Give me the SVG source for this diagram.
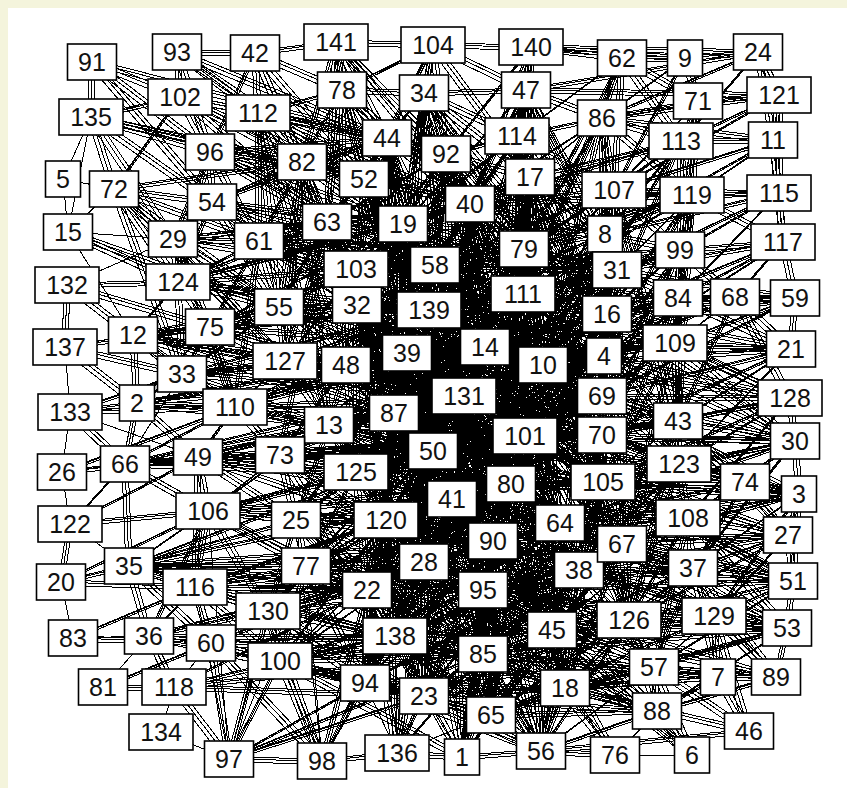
<svg xmlns="http://www.w3.org/2000/svg" xmlns:xlink="http://www.w3.org/1999/xlink" width="847" height="788" viewBox="0 0 847 788">
<style>
.e path{fill:none;stroke:#000;stroke-width:1;shape-rendering:crispEdges}
.n rect{fill:#fff;stroke:#000;stroke-width:1.6}
.n text{font-family:"Liberation Sans",Arial,sans-serif;font-size:25px;fill:#111;text-anchor:middle}
</style>
<rect x="0" y="0" width="847" height="788" fill="#f4f4dc"/>
<rect x="8" y="8" width="839" height="780" fill="#fff"/>
<g id="edges" class="e">
<g id="core">
<path d="M543,365 435,265 525,436 403,224 464,396 523,294 433,451 485,347 394,413 524,249 429,310 452,499 356,269 511,484 357,305 493,541 346,365 560,523 407,353 603,482 329,425 602,435 356,472 602,396 386,520 604,356 424,562 607,314 483,590 617,270 367,590 605,234 395,636 470,204 483,654 327,222 552,630 364,179 579,570 446,154 622,544 530,177 629,620 614,190 565,688 517,136 424,696 387,138 365,683 424,93 491,715 526,90"/>
<path d="M485,347 470,204 511,484 464,396 607,314 433,451 543,365 356,472 525,436 394,413 523,294 329,425 604,356 452,499 429,310 493,541 435,265 560,523 357,305 603,482 403,224 386,520 602,435 346,365 602,396 424,562 407,353 483,590 524,249 367,590 617,270 395,636 356,269 483,654 605,234 552,630 327,222 579,570 446,154 565,688 364,179 622,544 530,177 629,620 387,138 424,696 517,136 365,683 614,190 491,715"/>
<path d="M464,396 602,435 407,353 525,436 433,451 604,356 394,413 543,365 485,347 602,396 452,499 523,294 356,472 603,482 329,425 511,484 435,265 493,541 386,520 560,523 429,310 483,590 424,562 579,570 367,590 552,630 483,654 565,688 395,636 629,620 424,696 622,544 365,683 654,667 491,715 657,711 541,751 552,630 493,541 511,484 543,365 607,314 523,294 617,270 524,249 605,234 470,204 530,177 446,154 403,224 327,222 357,305 356,269 407,353 346,365 329,425 394,413"/>
<path d="M525,436 485,347 604,356 464,396 543,365 602,435 602,396 511,484 603,482 452,499 560,523 433,451 493,541 356,472 386,520 394,413 424,562 329,425 346,365 356,472 367,590 452,499 483,590 386,520 395,636 493,541 483,654 560,523 552,630 622,544 579,570 603,482 679,464 602,435 678,421 602,396 675,343 604,356 678,298 607,314 617,270 523,294 605,234 524,249 614,190 530,177 517,136 470,204 446,154 435,265 429,310 485,347 407,353 464,396"/>
<path d="M433,451 525,436 511,484 464,396 485,347 543,365 604,356 607,314 602,396 602,435 603,482 560,523 493,541 452,499 433,451 394,413 407,353 346,365 357,305 429,310 435,265 523,294 524,249 470,204 403,224 435,265 356,269 327,222 364,179 387,138 446,154 517,136 530,177 524,249 617,270 605,234 614,190 602,118 526,90 424,93 387,138 403,224 429,310 523,294 485,347 525,436 602,435 679,464 688,518 622,544 629,620 552,630 579,570 483,590 424,562 386,520 356,472 329,425 394,413 464,396 523,294"/>
<path d="M604,356 543,365 525,436 433,451 452,499 511,484 493,541 483,590 483,654 552,630 565,688 654,667 629,620 622,544 560,523 603,482 678,421 679,464 675,343 678,298 680,250 617,270 607,314 485,347 464,396 407,353 394,413 356,472 280,455 329,425 285,361 346,365 357,305 279,307 356,269 259,241 327,222 302,162 364,179 210,152 387,138 258,113 342,90 424,93 446,154 470,204 524,249 523,294 543,365"/>
<path d="M91,117 114,189 212,202 210,152 180,97 258,113 259,241 173,239 178,282 133,335 137,403 125,464 198,457 208,511 129,566 195,587 149,636 211,643 268,611 280,661 229,759 174,687 149,636 129,566 61,582 70,524 125,464 70,412 137,403 182,374 210,327 279,307 285,361 235,407 280,455 296,520 306,566 268,611 195,587 208,511 198,457 235,407 182,374 133,335 67,285 65,347 137,403"/>
<path d="M92,62 212,202 91,117 173,239 114,189 259,241 210,152 302,162 180,97 327,222 258,113 279,307 212,202 178,282 210,327 259,241 235,407 173,239 285,361 114,189 182,374 178,282 279,307 137,403 198,457 280,455 125,464 208,511 296,520 129,566 306,566 195,587 280,661 211,643 229,759 268,611 322,761 280,661 365,683 367,590 268,611 306,566 296,520 280,455 329,425 235,407 285,361 346,365 279,307 357,305 210,327 356,269"/>
<path d="M177,52 210,152 255,53 302,162 342,90 327,222 258,113 364,179 210,152 387,138 212,202 302,162 259,241 403,224 279,307 327,222 285,361 356,269 178,282 259,241 210,327 346,365 235,407 329,425 198,457 356,472 208,511 386,520 306,566 367,590 195,587 395,636 211,643 365,683 229,759 322,761 397,753 462,757 541,751"/>
<path d="M92,62 91,117 210,152 173,239 212,202 259,241 279,307 178,282 173,239 210,327 182,374 235,407 198,457 137,403 210,327 285,361 279,307 329,425 280,455 198,457 208,511 280,455 296,520 208,511 268,611 296,520 386,520 280,455 356,472 306,566 280,661 367,590 365,683 280,661 395,636 268,611 367,590 306,566 386,520 424,562 356,472 452,499 296,520 329,425 433,451 280,455 394,413 285,361 407,353 279,307 346,365 210,327 133,335 178,282 114,189 180,97 177,52 258,113 302,162 210,152 180,97 91,117 212,202"/>
<path d="M336,42 342,90 255,53 258,113 342,90 424,93 433,45 531,47 622,58 602,118 526,90 433,45 424,93 446,154 517,136 526,90 531,47 530,177 602,118 614,190 622,58 698,101 685,58 758,52 779,95 698,101 681,141 602,118 692,195 681,141 773,140 779,95 779,193 773,140 783,242 779,193 692,195 680,250 614,190 605,234 530,177 470,204 446,154 387,138 424,93 403,224 364,179 387,138 342,90 364,179 302,162"/>
<path d="M433,45 446,154 531,47 517,136 424,93 470,204 526,90 530,177 433,45 387,138 336,42 302,162 327,222 403,224 446,154 524,249 517,136 617,270 602,118 605,234 681,141 680,250 698,101 614,190 685,58 602,118 622,58 681,141 758,52 773,140 692,195 783,242 680,250 678,298 735,297 783,242 795,298 791,349 735,297 675,343 678,298 692,195"/>
<path d="M255,53 336,42 433,45 342,90 387,138 446,154 470,204 517,136 602,118 681,141 614,190 692,195 605,234 680,250 607,314 678,298 617,270 614,190 517,136 524,249 530,177 523,294 470,204 435,265 403,224 356,269 364,179 327,222 387,138 302,162 258,113 255,53 177,52 180,97 92,62"/>
<path d="M791,349 675,343 790,398 678,421 795,441 679,464 745,482 688,518 788,535 799,494 793,581 714,616 787,628 693,568 629,620 654,667 718,677 776,677 787,628 793,581 788,535 745,482 799,494 795,441 790,398 735,297 791,349 795,298 783,242 735,297 680,250 617,270 678,298 607,314 675,343 604,356 678,421 602,396 679,464 602,435 603,482 688,518 622,544 693,568 579,570 714,616 654,667 657,711 692,755 654,667 565,688 657,711 615,755 541,751"/>
<path d="M795,298 678,298 791,349 678,421 790,398 675,343 795,441 679,464 799,494 688,518 745,482 678,421 788,535 603,482 793,581 560,523 787,628 629,620 714,616 693,568 688,518 679,464 678,421 745,482 795,441 604,356 790,398 607,314 791,349 617,270 795,298 735,297 675,343 602,396 795,441 602,435 799,494 603,482 788,535 622,544 793,581 579,570 787,628 552,630 776,677 714,616 718,677 654,667 749,731 718,677 657,711 629,620"/>
<path d="M788,535 525,436 745,482 560,523 799,494 602,396 790,398 543,365 791,349 485,347 795,298 607,314 783,242 617,270 779,193 605,234 773,140 614,190 779,95 681,141 758,52 602,118 685,58 622,58 698,101 692,195 783,242 680,250 779,193 678,298 735,297 607,314 795,441 525,436 793,581 493,541 787,628 483,590 776,677 693,568 718,677 714,616 749,731 654,667 787,628 688,518 793,581 603,482 745,482 602,435 790,398 679,464 799,494 622,544 788,535 579,570"/>
<path d="M541,751 483,654 541,751 483,590 541,751 552,630 541,751 579,570 541,751 629,620 541,751 493,541 541,751 560,523 541,751 424,562 541,751 424,696 541,751 657,711 541,751 654,667 541,751 622,544 462,757 483,654 462,757 483,590 462,757 424,562 462,757 367,590 397,753 367,590 397,753 386,520 397,753 483,654 491,715 483,590 491,715 552,630 491,715 565,688 424,696 424,562 424,696 367,590 365,683 395,636 365,683 424,562 365,683 386,520 424,696 483,590"/>
<path d="M565,688 552,630 629,620 579,570 622,544 560,523 493,541 483,590 424,562 367,590 386,520 452,499 493,541 579,570 552,630 483,654 395,636 367,590 306,566 386,520 493,541 560,523 579,570 629,620 565,688 483,654 491,715 424,696 395,636 386,520 511,484 483,590 552,630 560,523 603,482 579,570 654,667 629,620 693,568 622,544 688,518 560,523 511,484 452,499 424,562"/>
<path d="M329,425 543,365 356,472 604,356 346,365 525,436 357,305 602,435 356,269 602,396 407,353 603,482 429,310 560,523 435,265 511,484 403,224 493,541 327,222 452,499 364,179 433,451 387,138 394,413 446,154 464,396 470,204 485,347 530,177 525,436 517,136 543,365 526,90 604,356 424,93 607,314 446,154 602,396 435,265 602,435 403,224 603,482 357,305 560,523 346,365 511,484 329,425 493,541 356,472 483,590 394,413 424,562 433,451 367,590 407,353 386,520 429,310 452,499 523,294 511,484 524,249 525,436 605,234 485,347 617,270 464,396 607,314 429,310 604,356 407,353 543,365 394,413 602,435"/>
<path d="M279,307 429,310 285,361 485,347 210,327 464,396 235,407 433,451 198,457 394,413 280,455 525,436 208,511 511,484 296,520 493,541 306,566 560,523 268,611 483,590 195,587 424,562 280,661 552,630 211,643 483,654 229,759 424,696 367,590 565,688 365,683 541,751 395,636 491,715 280,661 462,757"/>
<path d="M302,162 435,265 210,152 403,224 212,202 523,294 259,241 524,249 173,239 470,204 178,282 429,310 133,335 464,396 182,374 485,347 137,403 543,365 125,464 525,436 198,457 452,499 208,511 493,541 129,566 483,590 195,587 395,636 129,566 306,566 125,464 329,425 137,403 346,365 182,374 285,361 133,335 279,307 173,239 356,269 212,202 327,222 180,97 364,179 177,52 387,138 92,62 210,152"/>
<path d="M680,250 435,265 692,195 470,204 681,141 530,177 602,118 524,249 614,190 523,294 605,234 403,224 617,270 429,310 607,314 356,269 678,298 485,347 675,343 543,365 678,421 464,396 679,464 433,451 688,518 452,499 693,568 493,541 714,616 483,590 629,620 424,562 654,667 367,590 657,711 424,696 718,677 483,654 776,677 552,630 787,628 565,688 749,731 541,751"/>
<path d="M735,297 604,356 783,242 607,314 795,298 602,396 791,349 602,435 790,398 603,482 795,441 560,523 745,482 511,484 799,494 525,436 788,535 493,541 793,581 483,590 787,628 483,654 714,616 491,715 693,568 552,630 688,518 579,570 679,464 629,620 678,421 622,544 675,343 603,482 678,298 602,435 680,250 604,356 692,195 617,270 614,190 543,365 681,141 607,314 602,118 523,294 622,58 524,249 531,47 470,204 517,136 435,265 526,90 403,224 433,45 364,179 336,42 327,222 255,53 302,162"/>
<path d="M464,396 525,436 394,413 602,435 433,451 602,396 407,353 560,523 485,347 452,499 543,365 493,541 604,356 511,484 607,314 356,472 617,270 329,425 523,294 386,520 435,265 424,562 429,310 483,590 357,305 579,570 346,365 552,630 356,269 483,654 403,224 565,688 470,204 629,620 524,249 622,544 605,234 603,482 530,177 679,464 614,190 678,421 692,195 675,343 680,250 678,298 617,270 602,396 543,365 525,436 511,484 560,523 493,541 452,499 433,451 394,413 407,353 485,347 464,396 604,356"/>
<path d="M394,413 485,347 433,451 543,365 329,425 464,396 356,472 525,436 346,365 511,484 407,353 493,541 357,305 560,523 435,265 603,482 403,224 602,435 429,310 602,396 356,269 604,356 523,294 394,413 452,499 464,396 386,520 525,436 424,562 511,484 483,590 560,523 483,654 603,482 552,630 602,435 579,570 678,421 622,544 679,464 629,620 688,518 654,667 693,568 565,688 657,711 552,630 493,541 367,590 452,499 395,636 433,451 424,696 464,396 365,683 394,413 491,715 525,436 541,751 493,541 462,757 424,562 397,753 386,520"/>
<path d="M403,224 429,310 364,179 435,265 387,138 470,204 446,154 524,249 517,136 523,294 530,177 485,347 470,204 543,365 403,224 464,396 327,222 407,353 356,269 394,413 357,305 433,451 346,365 452,499 329,425 386,520 356,472 424,562 280,455 367,590 296,520 395,636 306,566 365,683 268,611 424,696 280,661 483,654"/>
<path d="M464,396 403,224 464,396 435,265 464,396 357,305 464,396 346,365 464,396 329,425 464,396 356,472 464,396 386,520 464,396 424,562 464,396 493,541 464,396 560,523 464,396 603,482 464,396 602,435 464,396 602,396 464,396 607,314 464,396 523,294 464,396 524,249 464,396 470,204"/>
<path d="M525,436 407,353 525,436 346,365 525,436 329,425 525,436 356,472 525,436 386,520 525,436 424,562 525,436 483,590 525,436 483,654 525,436 552,630 525,436 579,570 525,436 622,544 525,436 603,482 525,436 678,421 525,436 675,343 525,436 607,314 525,436 617,270 525,436 605,234 525,436 524,249 525,436 523,294 525,436 435,265 525,436 429,310"/>
<path d="M433,451 429,310 433,451 435,265 433,451 356,269 433,451 357,305 433,451 346,365 433,451 485,347 433,451 543,365 433,451 604,356 433,451 602,396 433,451 602,435 433,451 603,482 433,451 560,523 433,451 493,541 433,451 483,590 433,451 424,562 433,451 367,590 433,451 395,636 433,451 483,654 433,451 552,630 433,451 579,570 433,451 356,472 433,451 329,425"/>
<path d="M279,307 346,365 259,241 357,305 212,202 356,269 173,239 327,222 178,282 403,224 210,327 429,310 182,374 407,353 235,407 394,413 198,457 329,425 208,511 356,472 125,464 433,451 129,566 452,499 195,587 386,520 211,643 424,562 149,636 367,590 174,687 395,636 280,661 483,590 268,611 493,541 306,566 452,499 296,520 511,484 280,455 525,436 285,361 464,396 279,307 485,347 259,241 435,265 210,152 364,179 302,162 470,204 258,113 446,154 327,222 435,265 356,269 524,249 357,305 523,294"/>
<path d="M675,343 485,347 678,298 543,365 680,250 523,294 692,195 524,249 681,141 470,204 614,190 435,265 617,270 429,310 605,234 403,224 607,314 407,353 604,356 394,413 602,396 464,396 678,421 433,451 679,464 452,499 688,518 493,541 693,568 483,590 714,616 483,654 629,620 424,562 654,667 367,590 657,711 395,636 622,544 386,520 579,570 452,499 560,523 356,472 603,482 329,425 602,435 346,365 675,343 357,305 678,298 356,269 617,270 327,222"/>
<path d="M302,162 403,224 387,138 435,265 364,179 470,204 327,222 446,154 356,269 517,136 403,224 530,177 435,265 524,249 470,204 523,294 446,154 429,310 387,138 356,269 364,179 357,305 327,222 346,365 403,224 407,353 435,265 485,347 470,204 543,365 530,177 604,356 517,136 607,314 602,118 617,270 526,90 605,234 424,93 524,249 342,90 470,204 336,42 446,154 433,45 530,177 531,47 517,136 622,58 614,190 602,118 470,204 526,90 403,224 424,93 435,265 342,90 364,179 255,53 302,162 258,113 327,222 210,152 403,224 212,202 356,269 259,241 435,265"/>
<path d="M387,138 464,396 364,179 433,451 446,154 525,436 403,224 452,499 470,204 511,484 530,177 493,541 517,136 560,523 327,222 394,413 302,162 329,425 258,113 346,365 342,90 407,353 424,93 485,347 526,90 543,365 602,118 604,356 614,190 602,396 605,234 602,435 524,249 603,482 523,294 560,523 435,265 386,520 356,269 356,472 357,305 424,562 429,310 483,590 470,204 433,451 446,154 394,413 387,138 407,353"/>
<path d="M133,335 182,374 137,403 210,327 178,282 182,374 235,407 137,403 198,457 125,464 129,566 208,511 195,587 198,457 235,407 210,327 173,239 178,282 259,241 210,327 279,307 182,374 285,361 235,407 280,455 198,457 296,520 208,511 306,566 195,587 268,611 129,566 211,643 195,587 149,636 208,511 125,464 235,407 133,335 178,282 279,307 259,241 173,239 212,202 178,282 210,152 259,241 258,113 279,307 302,162 285,361 327,222 280,455 346,365 235,407 285,361 329,425 280,455 356,472 296,520 386,520 306,566 367,590 268,611 395,636 280,661 365,683 211,643 322,761"/>
<path d="M137,403 394,413 133,335 346,365 182,374 329,425 125,464 356,472 198,457 386,520 208,511 367,590 129,566 424,562 195,587 395,636 149,636 365,683 211,643 424,696 174,687 483,654 280,661 452,499 268,611 433,451 306,566 464,396 296,520 407,353 280,455 485,347 235,407 429,310 210,327 357,305 178,282 356,269 173,239 327,222 212,202 403,224 210,152 387,138 180,97 364,179 91,117 302,162 114,189 279,307 68,232 178,282 67,285 210,327 65,347 182,374 70,412 235,407 62,472 198,457 70,524 208,511 61,582 195,587 73,638 211,643 103,687 174,687"/>
<path d="M367,590 493,541 395,636 560,523 365,683 579,570 424,696 552,630 491,715 629,620 483,654 622,544 565,688 603,482 541,751 560,523 462,757 493,541 397,753 452,499 322,761 386,520 280,661 424,562 268,611 483,590 306,566 483,654 296,520 552,630 367,590 565,688 395,636 579,570 424,562 491,715 386,520 541,751 452,499 462,757 511,484 424,696 560,523 365,683 493,541 491,715 579,570 483,654 629,620 483,590 622,544 424,562 552,630 386,520 565,688 367,590 654,667 452,499 657,711 493,541 615,755 483,590 692,755 552,630"/>
<path d="M675,343 678,421 678,298 602,396 680,250 604,356 692,195 607,314 735,297 675,343 791,349 678,421 790,398 679,464 795,441 688,518 745,482 693,568 788,535 714,616 793,581 629,620 787,628 654,667 776,677 657,711 718,677 565,688 749,731 654,667 714,616 622,544 693,568 603,482 688,518 602,435 679,464 602,396 678,421 604,356 675,343 607,314 678,298 617,270 680,250 605,234 692,195 614,190 681,141 602,118 698,101 622,58 685,58 531,47 758,52 526,90 779,95 602,118 773,140 614,190 779,193 680,250 783,242 678,298 795,298 675,343 735,297 678,421 791,349 679,464 790,398 688,518 795,441 693,568 799,494 714,616 788,535 629,620 793,581 654,667 787,628 657,711"/>
</g>
<use xlink:href="#core" href="#core" transform="translate(3,-2)"/>
<use xlink:href="#core" href="#core" transform="translate(-3,3)"/>
<g id="outer">
<path d="M63,179 68,232 91,117 63,179 114,189 68,232 173,239 67,285 178,282 68,232 133,335 65,347 70,412 137,403 133,335 182,374 125,464 62,472 70,412 198,457 62,472 70,524 129,566 61,582 73,638 149,636 103,687 174,687 161,732 229,759 174,687 211,643 149,636 195,587 129,566 125,464 208,511 195,587 268,611 211,643 280,661"/>
<path d="M229,759 322,761 397,753 462,757 541,751 615,755 692,755 657,711 654,667 565,688 541,751 491,715 462,757 424,696 397,753 365,683 322,761 280,661 395,636 424,696 491,715 483,654 541,751 565,688 552,630 483,590 483,654 424,696 365,683 367,590 395,636 424,562 483,590 493,541 552,630 579,570 565,688 629,620 654,667 657,711 615,755 565,688 491,715 397,753 395,636 483,654 462,757"/>
<path d="M229,759 211,643 229,759 195,587 229,759 268,611 229,759 208,511 229,759 296,520 229,759 306,566 229,759 280,661 322,761 367,590 322,761 365,683 322,761 268,611 322,761 306,566 322,761 386,520 322,761 395,636 322,761 296,520"/>
</g>
</g>
<g id="n1" class="n"><rect x="444.5" y="739" width="35" height="36"/><text x="462" y="766">1</text></g>
<g id="n2" class="n"><rect x="119.5" y="385" width="35" height="36"/><text x="137" y="412">2</text></g>
<g id="n3" class="n"><rect x="781.5" y="476" width="35" height="36"/><text x="799" y="503">3</text></g>
<g id="n4" class="n"><rect x="586.5" y="338" width="35" height="36"/><text x="604" y="365">4</text></g>
<g id="n5" class="n"><rect x="45.5" y="161" width="35" height="36"/><text x="63" y="188">5</text></g>
<g id="n6" class="n"><rect x="674.5" y="737" width="35" height="36"/><text x="692" y="764">6</text></g>
<g id="n7" class="n"><rect x="700.5" y="659" width="35" height="36"/><text x="718" y="686">7</text></g>
<g id="n8" class="n"><rect x="587.5" y="216" width="35" height="36"/><text x="605" y="243">8</text></g>
<g id="n9" class="n"><rect x="667.5" y="40" width="35" height="36"/><text x="685" y="67">9</text></g>
<g id="n10" class="n"><rect x="518.5" y="347" width="49" height="36"/><text x="543" y="374">10</text></g>
<g id="n11" class="n"><rect x="748.5" y="122" width="49" height="36"/><text x="773" y="149">11</text></g>
<g id="n12" class="n"><rect x="108.5" y="317" width="49" height="36"/><text x="133" y="344">12</text></g>
<g id="n13" class="n"><rect x="304.5" y="407" width="49" height="36"/><text x="329" y="434">13</text></g>
<g id="n14" class="n"><rect x="460.5" y="329" width="49" height="36"/><text x="485" y="356">14</text></g>
<g id="n15" class="n"><rect x="43.5" y="214" width="49" height="36"/><text x="68" y="241">15</text></g>
<g id="n16" class="n"><rect x="582.5" y="296" width="49" height="36"/><text x="607" y="323">16</text></g>
<g id="n17" class="n"><rect x="505.5" y="159" width="49" height="36"/><text x="530" y="186">17</text></g>
<g id="n18" class="n"><rect x="540.5" y="670" width="49" height="36"/><text x="565" y="697">18</text></g>
<g id="n19" class="n"><rect x="378.5" y="206" width="49" height="36"/><text x="403" y="233">19</text></g>
<g id="n20" class="n"><rect x="36.5" y="564" width="49" height="36"/><text x="61" y="591">20</text></g>
<g id="n21" class="n"><rect x="766.5" y="331" width="49" height="36"/><text x="791" y="358">21</text></g>
<g id="n22" class="n"><rect x="342.5" y="572" width="49" height="36"/><text x="367" y="599">22</text></g>
<g id="n23" class="n"><rect x="399.5" y="678" width="49" height="36"/><text x="424" y="705">23</text></g>
<g id="n24" class="n"><rect x="733.5" y="34" width="49" height="36"/><text x="758" y="61">24</text></g>
<g id="n25" class="n"><rect x="271.5" y="502" width="49" height="36"/><text x="296" y="529">25</text></g>
<g id="n26" class="n"><rect x="37.5" y="454" width="49" height="36"/><text x="62" y="481">26</text></g>
<g id="n27" class="n"><rect x="763.5" y="517" width="49" height="36"/><text x="788" y="544">27</text></g>
<g id="n28" class="n"><rect x="399.5" y="544" width="49" height="36"/><text x="424" y="571">28</text></g>
<g id="n29" class="n"><rect x="148.5" y="221" width="49" height="36"/><text x="173" y="248">29</text></g>
<g id="n30" class="n"><rect x="770.5" y="423" width="49" height="36"/><text x="795" y="450">30</text></g>
<g id="n31" class="n"><rect x="592.5" y="252" width="49" height="36"/><text x="617" y="279">31</text></g>
<g id="n32" class="n"><rect x="332.5" y="287" width="49" height="36"/><text x="357" y="314">32</text></g>
<g id="n33" class="n"><rect x="157.5" y="356" width="49" height="36"/><text x="182" y="383">33</text></g>
<g id="n34" class="n"><rect x="399.5" y="75" width="49" height="36"/><text x="424" y="102">34</text></g>
<g id="n35" class="n"><rect x="104.5" y="548" width="49" height="36"/><text x="129" y="575">35</text></g>
<g id="n36" class="n"><rect x="124.5" y="618" width="49" height="36"/><text x="149" y="645">36</text></g>
<g id="n37" class="n"><rect x="668.5" y="550" width="49" height="36"/><text x="693" y="577">37</text></g>
<g id="n38" class="n"><rect x="554.5" y="552" width="49" height="36"/><text x="579" y="579">38</text></g>
<g id="n39" class="n"><rect x="382.5" y="335" width="49" height="36"/><text x="407" y="362">39</text></g>
<g id="n40" class="n"><rect x="445.5" y="186" width="49" height="36"/><text x="470" y="213">40</text></g>
<g id="n41" class="n"><rect x="427.5" y="481" width="49" height="36"/><text x="452" y="508">41</text></g>
<g id="n42" class="n"><rect x="230.5" y="35" width="49" height="36"/><text x="255" y="62">42</text></g>
<g id="n43" class="n"><rect x="653.5" y="403" width="49" height="36"/><text x="678" y="430">43</text></g>
<g id="n44" class="n"><rect x="362.5" y="120" width="49" height="36"/><text x="387" y="147">44</text></g>
<g id="n45" class="n"><rect x="527.5" y="612" width="49" height="36"/><text x="552" y="639">45</text></g>
<g id="n46" class="n"><rect x="724.5" y="713" width="49" height="36"/><text x="749" y="740">46</text></g>
<g id="n47" class="n"><rect x="501.5" y="72" width="49" height="36"/><text x="526" y="99">47</text></g>
<g id="n48" class="n"><rect x="321.5" y="347" width="49" height="36"/><text x="346" y="374">48</text></g>
<g id="n49" class="n"><rect x="173.5" y="439" width="49" height="36"/><text x="198" y="466">49</text></g>
<g id="n50" class="n"><rect x="408.5" y="433" width="49" height="36"/><text x="433" y="460">50</text></g>
<g id="n51" class="n"><rect x="768.5" y="563" width="49" height="36"/><text x="793" y="590">51</text></g>
<g id="n52" class="n"><rect x="339.5" y="161" width="49" height="36"/><text x="364" y="188">52</text></g>
<g id="n53" class="n"><rect x="762.5" y="610" width="49" height="36"/><text x="787" y="637">53</text></g>
<g id="n54" class="n"><rect x="187.5" y="184" width="49" height="36"/><text x="212" y="211">54</text></g>
<g id="n55" class="n"><rect x="254.5" y="289" width="49" height="36"/><text x="279" y="316">55</text></g>
<g id="n56" class="n"><rect x="516.5" y="733" width="49" height="36"/><text x="541" y="760">56</text></g>
<g id="n57" class="n"><rect x="629.5" y="649" width="49" height="36"/><text x="654" y="676">57</text></g>
<g id="n58" class="n"><rect x="410.5" y="247" width="49" height="36"/><text x="435" y="274">58</text></g>
<g id="n59" class="n"><rect x="770.5" y="280" width="49" height="36"/><text x="795" y="307">59</text></g>
<g id="n60" class="n"><rect x="186.5" y="625" width="49" height="36"/><text x="211" y="652">60</text></g>
<g id="n61" class="n"><rect x="234.5" y="223" width="49" height="36"/><text x="259" y="250">61</text></g>
<g id="n62" class="n"><rect x="597.5" y="40" width="49" height="36"/><text x="622" y="67">62</text></g>
<g id="n63" class="n"><rect x="302.5" y="204" width="49" height="36"/><text x="327" y="231">63</text></g>
<g id="n64" class="n"><rect x="535.5" y="505" width="49" height="36"/><text x="560" y="532">64</text></g>
<g id="n65" class="n"><rect x="466.5" y="697" width="49" height="36"/><text x="491" y="724">65</text></g>
<g id="n66" class="n"><rect x="100.5" y="446" width="49" height="36"/><text x="125" y="473">66</text></g>
<g id="n67" class="n"><rect x="597.5" y="526" width="49" height="36"/><text x="622" y="553">67</text></g>
<g id="n68" class="n"><rect x="710.5" y="279" width="49" height="36"/><text x="735" y="306">68</text></g>
<g id="n69" class="n"><rect x="577.5" y="378" width="49" height="36"/><text x="602" y="405">69</text></g>
<g id="n70" class="n"><rect x="577.5" y="417" width="49" height="36"/><text x="602" y="444">70</text></g>
<g id="n71" class="n"><rect x="673.5" y="83" width="49" height="36"/><text x="698" y="110">71</text></g>
<g id="n72" class="n"><rect x="89.5" y="171" width="49" height="36"/><text x="114" y="198">72</text></g>
<g id="n73" class="n"><rect x="255.5" y="437" width="49" height="36"/><text x="280" y="464">73</text></g>
<g id="n74" class="n"><rect x="720.5" y="464" width="49" height="36"/><text x="745" y="491">74</text></g>
<g id="n75" class="n"><rect x="185.5" y="309" width="49" height="36"/><text x="210" y="336">75</text></g>
<g id="n76" class="n"><rect x="590.5" y="737" width="49" height="36"/><text x="615" y="764">76</text></g>
<g id="n77" class="n"><rect x="281.5" y="548" width="49" height="36"/><text x="306" y="575">77</text></g>
<g id="n78" class="n"><rect x="317.5" y="72" width="49" height="36"/><text x="342" y="99">78</text></g>
<g id="n79" class="n"><rect x="499.5" y="231" width="49" height="36"/><text x="524" y="258">79</text></g>
<g id="n80" class="n"><rect x="486.5" y="466" width="49" height="36"/><text x="511" y="493">80</text></g>
<g id="n81" class="n"><rect x="78.5" y="669" width="49" height="36"/><text x="103" y="696">81</text></g>
<g id="n82" class="n"><rect x="277.5" y="144" width="49" height="36"/><text x="302" y="171">82</text></g>
<g id="n83" class="n"><rect x="48.5" y="620" width="49" height="36"/><text x="73" y="647">83</text></g>
<g id="n84" class="n"><rect x="653.5" y="280" width="49" height="36"/><text x="678" y="307">84</text></g>
<g id="n85" class="n"><rect x="458.5" y="636" width="49" height="36"/><text x="483" y="663">85</text></g>
<g id="n86" class="n"><rect x="577.5" y="100" width="49" height="36"/><text x="602" y="127">86</text></g>
<g id="n87" class="n"><rect x="369.5" y="395" width="49" height="36"/><text x="394" y="422">87</text></g>
<g id="n88" class="n"><rect x="632.5" y="693" width="49" height="36"/><text x="657" y="720">88</text></g>
<g id="n89" class="n"><rect x="751.5" y="659" width="49" height="36"/><text x="776" y="686">89</text></g>
<g id="n90" class="n"><rect x="468.5" y="523" width="49" height="36"/><text x="493" y="550">90</text></g>
<g id="n91" class="n"><rect x="67.5" y="44" width="49" height="36"/><text x="92" y="71">91</text></g>
<g id="n92" class="n"><rect x="421.5" y="136" width="49" height="36"/><text x="446" y="163">92</text></g>
<g id="n93" class="n"><rect x="152.5" y="34" width="49" height="36"/><text x="177" y="61">93</text></g>
<g id="n94" class="n"><rect x="340.5" y="665" width="49" height="36"/><text x="365" y="692">94</text></g>
<g id="n95" class="n"><rect x="458.5" y="572" width="49" height="36"/><text x="483" y="599">95</text></g>
<g id="n96" class="n"><rect x="185.5" y="134" width="49" height="36"/><text x="210" y="161">96</text></g>
<g id="n97" class="n"><rect x="204.5" y="741" width="49" height="36"/><text x="229" y="768">97</text></g>
<g id="n98" class="n"><rect x="297.5" y="743" width="49" height="36"/><text x="322" y="770">98</text></g>
<g id="n99" class="n"><rect x="655.5" y="232" width="49" height="36"/><text x="680" y="259">99</text></g>
<g id="n100" class="n"><rect x="248" y="643" width="64" height="36"/><text x="280" y="670">100</text></g>
<g id="n101" class="n"><rect x="493" y="418" width="64" height="36"/><text x="525" y="445">101</text></g>
<g id="n102" class="n"><rect x="148" y="79" width="64" height="36"/><text x="180" y="106">102</text></g>
<g id="n103" class="n"><rect x="324" y="251" width="64" height="36"/><text x="356" y="278">103</text></g>
<g id="n104" class="n"><rect x="401" y="27" width="64" height="36"/><text x="433" y="54">104</text></g>
<g id="n105" class="n"><rect x="571" y="464" width="64" height="36"/><text x="603" y="491">105</text></g>
<g id="n106" class="n"><rect x="176" y="493" width="64" height="36"/><text x="208" y="520">106</text></g>
<g id="n107" class="n"><rect x="582" y="172" width="64" height="36"/><text x="614" y="199">107</text></g>
<g id="n108" class="n"><rect x="656" y="500" width="64" height="36"/><text x="688" y="527">108</text></g>
<g id="n109" class="n"><rect x="643" y="325" width="64" height="36"/><text x="675" y="352">109</text></g>
<g id="n110" class="n"><rect x="203" y="389" width="64" height="36"/><text x="235" y="416">110</text></g>
<g id="n111" class="n"><rect x="491" y="276" width="64" height="36"/><text x="523" y="303">111</text></g>
<g id="n112" class="n"><rect x="226" y="95" width="64" height="36"/><text x="258" y="122">112</text></g>
<g id="n113" class="n"><rect x="649" y="123" width="64" height="36"/><text x="681" y="150">113</text></g>
<g id="n114" class="n"><rect x="485" y="118" width="64" height="36"/><text x="517" y="145">114</text></g>
<g id="n115" class="n"><rect x="747" y="175" width="64" height="36"/><text x="779" y="202">115</text></g>
<g id="n116" class="n"><rect x="163" y="569" width="64" height="36"/><text x="195" y="596">116</text></g>
<g id="n117" class="n"><rect x="751" y="224" width="64" height="36"/><text x="783" y="251">117</text></g>
<g id="n118" class="n"><rect x="142" y="669" width="64" height="36"/><text x="174" y="696">118</text></g>
<g id="n119" class="n"><rect x="660" y="177" width="64" height="36"/><text x="692" y="204">119</text></g>
<g id="n120" class="n"><rect x="354" y="502" width="64" height="36"/><text x="386" y="529">120</text></g>
<g id="n121" class="n"><rect x="747" y="77" width="64" height="36"/><text x="779" y="104">121</text></g>
<g id="n122" class="n"><rect x="38" y="506" width="64" height="36"/><text x="70" y="533">122</text></g>
<g id="n123" class="n"><rect x="647" y="446" width="64" height="36"/><text x="679" y="473">123</text></g>
<g id="n124" class="n"><rect x="146" y="264" width="64" height="36"/><text x="178" y="291">124</text></g>
<g id="n125" class="n"><rect x="324" y="454" width="64" height="36"/><text x="356" y="481">125</text></g>
<g id="n126" class="n"><rect x="597" y="602" width="64" height="36"/><text x="629" y="629">126</text></g>
<g id="n127" class="n"><rect x="253" y="343" width="64" height="36"/><text x="285" y="370">127</text></g>
<g id="n128" class="n"><rect x="758" y="380" width="64" height="36"/><text x="790" y="407">128</text></g>
<g id="n129" class="n"><rect x="682" y="598" width="64" height="36"/><text x="714" y="625">129</text></g>
<g id="n130" class="n"><rect x="236" y="593" width="64" height="36"/><text x="268" y="620">130</text></g>
<g id="n131" class="n"><rect x="432" y="378" width="64" height="36"/><text x="464" y="405">131</text></g>
<g id="n132" class="n"><rect x="35" y="267" width="64" height="36"/><text x="67" y="294">132</text></g>
<g id="n133" class="n"><rect x="38" y="394" width="64" height="36"/><text x="70" y="421">133</text></g>
<g id="n134" class="n"><rect x="129" y="714" width="64" height="36"/><text x="161" y="741">134</text></g>
<g id="n135" class="n"><rect x="59" y="99" width="64" height="36"/><text x="91" y="126">135</text></g>
<g id="n136" class="n"><rect x="365" y="735" width="64" height="36"/><text x="397" y="762">136</text></g>
<g id="n137" class="n"><rect x="33" y="329" width="64" height="36"/><text x="65" y="356">137</text></g>
<g id="n138" class="n"><rect x="363" y="618" width="64" height="36"/><text x="395" y="645">138</text></g>
<g id="n139" class="n"><rect x="397" y="292" width="64" height="36"/><text x="429" y="319">139</text></g>
<g id="n140" class="n"><rect x="499" y="29" width="64" height="36"/><text x="531" y="56">140</text></g>
<g id="n141" class="n"><rect x="304" y="24" width="64" height="36"/><text x="336" y="51">141</text></g>
</svg>
